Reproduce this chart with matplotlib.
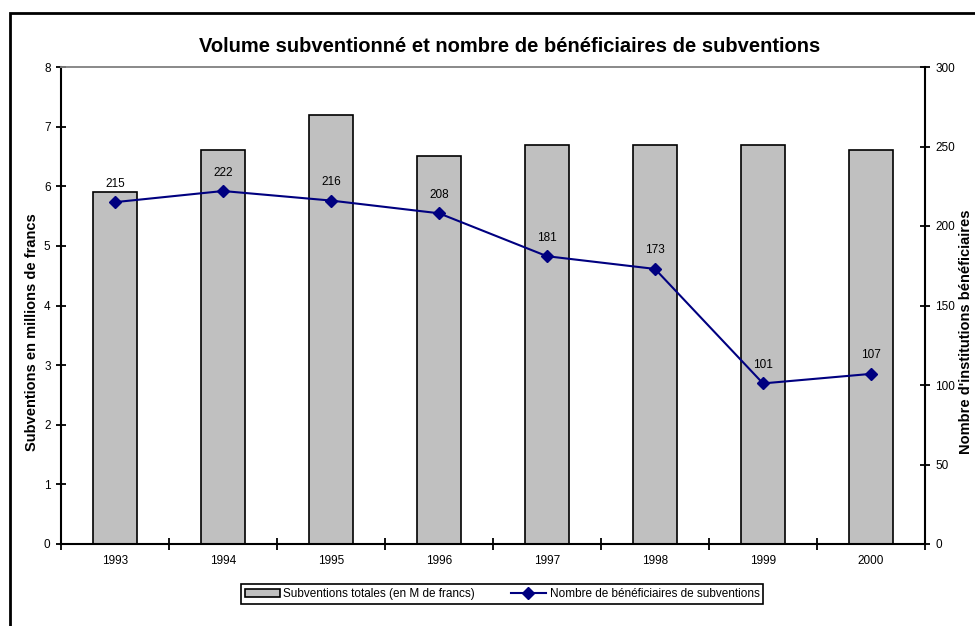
import matplotlib
matplotlib.use('Agg')
import matplotlib.pyplot as plt
from matplotlib.patches import Rectangle
import numpy as np

plt.rcParams['font.family'] = ['Liberation Sans', 'DejaVu Sans']

years = ['1993', '1994', '1995', '1996', '1997', '1998', '1999', '2000']
subventions = [5.9, 6.6, 7.2, 6.5, 6.7, 6.7, 6.7, 6.6]  # M de francs
beneficiaires = [215, 222, 216, 208, 181, 173, 101, 107]

fig = plt.figure(figsize=(9.75, 6.26), dpi=100)
ax = fig.add_axes([61/975, 1-544/626, (925-61)/975, (544-67)/626])
x = np.arange(len(years))

bars = ax.bar(x, subventions, width=0.4, color='#C0C0C0', edgecolor='black', linewidth=1.2,
              label='Subventions totales (en M de francs)', zorder=2)
ax.set_xlim(-0.5, len(years)-0.5)
ax.set_ylim(0, 8)
ax.set_yticks(range(0, 9))
ax.set_xticks(x)
ax.set_xticklabels(years)
ax.set_xticks(np.arange(-0.5, len(years)), minor=True)
ax.tick_params(axis='x', which='major', length=0, pad=8, labelsize=8.5)
ax.tick_params(axis='x', which='minor', length=8, width=1.3, direction='inout')
ax.tick_params(axis='y', length=7, width=1.3, direction='inout', labelsize=8.5, pad=4)
for s in ['left', 'bottom']:
    ax.spines[s].set_linewidth(1.5)
ax.spines['top'].set_color('#808080')
ax.spines['top'].set_linewidth(1.3)
ax.spines['right'].set_visible(False)

ax2 = ax.twinx()
line, = ax2.plot(x, beneficiaires, color='#000080', linewidth=1.5, marker='D', markersize=6.5,
                 label='Nombre de bénéficiaires de subventions', zorder=3)
ax2.set_ylim(0, 300)
ax2.set_yticks(range(0, 301, 50))
ax2.tick_params(axis='y', length=7, width=1.3, direction='inout', labelsize=8.5, pad=4)
ax2.spines['right'].set_linewidth(1.5)
for s in ['top', 'left', 'bottom']:
    ax2.spines[s].set_visible(False)

for xi, v in zip(x, beneficiaires):
    ax2.annotate(str(v), (xi, v), xytext=(0, 9), textcoords='offset points',
                 ha='center', va='bottom', fontsize=8.5)

fig.text(32/975, 1-332/626, 'Subventions en millions de francs', rotation=90,
         ha='center', va='center', fontsize=10.5, fontweight='bold')
fig.text(966/975, 1-332/626, "Nombre d'institutions bénéficiaires", rotation=90,
         ha='center', va='center', fontsize=10.5, fontweight='bold')

fig.text(0.523, 1-46/626, 'Volume subventionné et nombre de bénéficiaires de subventions',
         ha='center', va='center', fontsize=14.5, fontweight='bold')

leg = fig.legend([bars, line], [bars.get_label(), line.get_label()], loc='center',
                 bbox_to_anchor=(502/975, 1-594/626), ncol=2, fontsize=8.5, frameon=True,
                 fancybox=False, edgecolor='black', framealpha=1, borderpad=0.3,
                 handlelength=3, columnspacing=3, handletextpad=0.3)
leg.get_frame().set_linewidth(1.2)

fig.add_artist(Rectangle((10/975, -0.1), 1.2, 1-13/626+0.1, transform=fig.transFigure,
                         fill=False, edgecolor='black', linewidth=2))

fig.savefig('out.png', dpi=100)
